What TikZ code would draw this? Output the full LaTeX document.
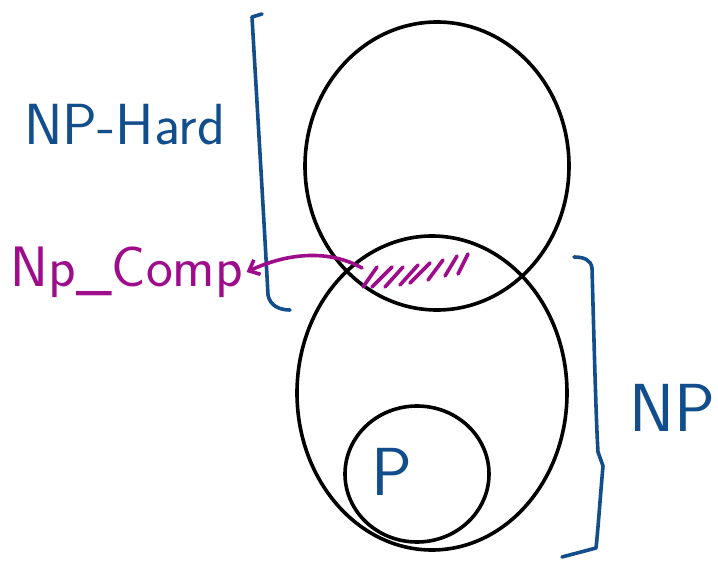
\documentclass[tikz,border=0pt]{standalone}
\usepackage{fontspec}
\usetikzlibrary{arrows.meta, positioning}
\definecolor{penblue}{RGB}{18,78,140}
\definecolor{penmagenta}{RGB}{158,12,140}
\tikzset{
  ink/.style={line width=3.6pt, line cap=round, line join=round},
  bluelabel/.style={text=penblue, font=\sffamily\fontsize{58}{64}\selectfont},
  biglabel/.style={text=penblue, font=\sffamily\fontsize{68}{74}\selectfont},
  magentalabel/.style={text=penmagenta, font=\sffamily\fontsize{57}{62}\selectfont}
}

\begin{document}
\begin{tikzpicture}[x=1pt, y=-1pt]
  \useasboundingbox (0,0) rectangle (718,567);

  % the three sets
  \draw[ink] (437,166) ellipse [x radius=132, y radius=144];
  \draw[ink] (432,393) ellipse [x radius=135, y radius=157];
  \draw[ink] (417,474) ellipse [x radius=72, y radius=68];

  % labels
  \node[bluelabel] (hard) at (125,125) {NP-Hard};
  \node[biglabel] (np) at (672,408) {NP};
  \node[biglabel] (p) at (392,472) {P};
  \node[magentalabel] (comp) at (127,272) {Np\_Comp};

  % braces
  \draw[ink, penblue] (262,14) -- (252,17) .. controls (258,120) and (264,220) .. (268,295)
    .. controls (270,306) and (280,310) .. (290,310);
  \draw[ink, penblue] (574,257) .. controls (584,257) and (591,260) .. (592,268)
    .. controls (594,340) and (596,420) .. (598,452) -- (603,466)
    .. controls (600,500) and (598,530) .. (596,548) -- (562,557);

  % hatching of the overlap
  \foreach \x/\y/\dx in {363/287/14, 372/287/20, 385/287/18, 400/285/18, 410/283/20, 428/280/15, 445/276/12, 458/274/10}
    \draw[ink, penmagenta] (\x,\y) -- ++(\dx,-20);

  % pointer to the label
  \coordinate (lens) at (362,268);
  \draw[ink, penmagenta, -{Straight Barb[length=9pt, width=16pt]}] (lens)
    .. controls (330,250) and (290,252) .. (comp.east);
\end{tikzpicture}
\end{document}
